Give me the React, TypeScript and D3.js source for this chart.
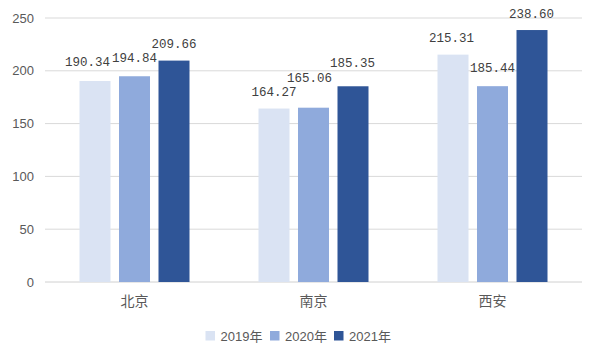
import React from "react";
import * as d3 from "d3";

const categories = ["北京", "南京", "西安"];
const seriesNames = ["2019年", "2020年", "2021年"];
const values2019 = [190.34, 164.27, 215.31];
const values2020 = [194.84, 165.06, 185.44];
const values2021 = [209.66, 185.35, 238.6];
const yTicks = [0, 50, 100, 150, 200, 250];
const colors = ["#DAE3F3", "#8FAADC", "#2F5597"];

// label nudges (style only) per series, per category, to avoid overlaps as in the reference
const labelDx = [
  [-7.5, 0, -1.5],
  [0, -4, 0],
  [0, -0.5, -0.5],
];
const labelDy = [
  [-2, 0, 0],
  [-1, -13, -1],
  [0, -6, 1],
];

export default function App() {
  const W = 600, H = 360;
  const left = 45, right = 582, top = 18, bottom = 282;
  const series = [values2019, values2020, values2021];
  const x = d3.scaleBand<string>().domain(categories).range([left, right]).paddingInner(0).paddingOuter(0);
  const y = d3.scaleLinear().domain([0, 250]).range([bottom, top]);
  const barW = 31, gap = 8.5;
  const groupW = barW * 3 + gap * 2;
  const legendX = [205.5, 270, 334];
  return (
    <svg width={W} height={H} style={{ position: "absolute", left: 0, top: 0 }}>
      <rect x={0} y={0} width={W} height={H} fill="#fff" />
      {yTicks.map((t) => (
        <g key={t}>
          <line x1={left} x2={right} y1={y(t)} y2={y(t)} stroke={t === 0 ? "#D0D0D0" : "#D9D9D9"} strokeWidth={1} />
          <text x={34} y={y(t)} dy="0.35em" textAnchor="end" fontFamily="Liberation Sans, Arial, sans-serif" fontSize={13} fill="#595959">{t}</text>
        </g>
      ))}
      {categories.map((c, ci) => {
        const cx = (x(c) as number) + x.bandwidth() / 2;
        return (
          <g key={c}>
            {series.map((s, si) => {
              const bx = cx - groupW / 2 + si * (barW + gap);
              return (
                <g key={si}>
                  <rect x={bx} y={y(s[ci])} width={barW} height={bottom - y(s[ci])} fill={colors[si]} />
                  <text x={bx + barW / 2 + labelDx[si][ci]} y={y(s[ci]) - 13 + labelDy[si][ci]} textAnchor="middle" fontFamily="Liberation Mono, DejaVu Sans Mono, monospace" fontSize={13.5} textLength={45} lengthAdjust="spacingAndGlyphs" fill="#404040">{s[ci].toFixed(2)}</text>
                </g>
              );
            })}
            <text x={cx} y={301} dy="0.35em" textAnchor="middle" fontFamily="Noto Sans CJK SC, sans-serif" fontSize={14} fill="#595959">{c}</text>
          </g>
        );
      })}
      {seriesNames.map((n, i) => (
        <g key={n}>
          <rect x={legendX[i]} y={331} width={9.5} height={9.5} fill={colors[i]} />
          <text x={legendX[i] + 15} y={336} dy="0.35em" fontFamily="Liberation Sans, Noto Sans CJK SC, sans-serif" fontSize={13} fill="#595959">{n}</text>
        </g>
      ))}
    </svg>
  );
}
